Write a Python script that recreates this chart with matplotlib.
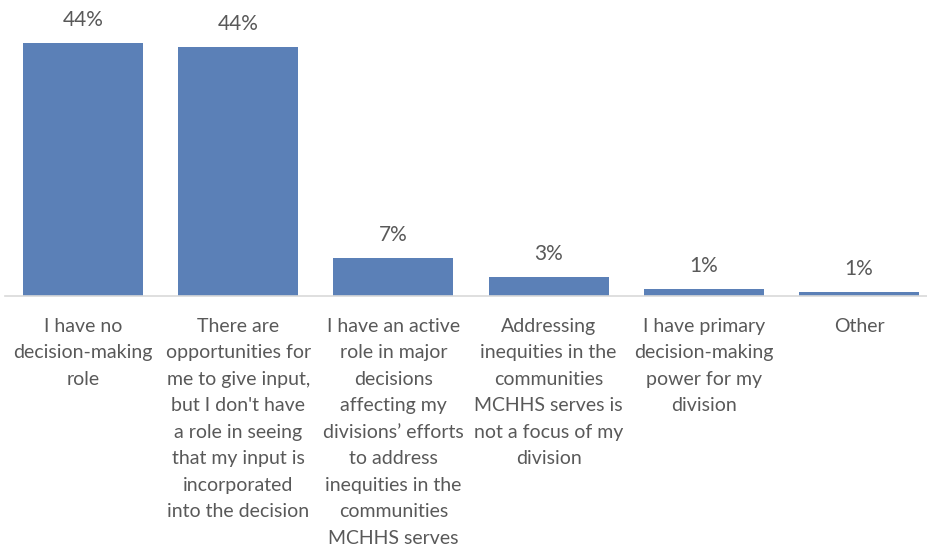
import matplotlib
matplotlib.use("Agg")
import matplotlib.pyplot as plt

categories = [
    "I have no\ndecision-making\nrole",
    "There are\nopportunities for\nme to give input,\nbut I don't have\na role in seeing\nthat my input is\nincorporated\ninto the decision",
    "I have an active\nrole in major\ndecisions\naffecting my\ndivisions\u2019 efforts\nto address\ninequities in the\ncommunities\nMCHHS serves",
    "Addressing\ninequities in the\ncommunities\nMCHHS serves is\nnot a focus of my\ndivision",
    "I have primary\ndecision-making\npower for my\ndivision",
    "Other",
]
values = [44.4, 43.7, 6.6, 3.2, 1.1, 0.7]

BAR_COLOR = "#5B80B7"
TEXT_COLOR = "#595959"
FONT = ["Lato", "DejaVu Sans"]

fig = plt.figure(figsize=(9.28, 5.5), dpi=100)
ax = fig.add_axes([5.4 / 928, 254.5 / 550, 931.2 / 928, 295.5 / 550])

x = list(range(len(categories)))
bars = ax.bar(x, values, width=0.773, color=BAR_COLOR, zorder=2)

ax.set_xlim(-0.5, len(categories) - 0.5)
ax.set_ylim(0, 295.5 / 5.68)

for rect, v in zip(bars, values):
    ax.annotate(f"{v:.0f}%",
                xy=(rect.get_x() + rect.get_width() / 2, rect.get_height()),
                xytext=(0, 16.5), textcoords="offset points",
                ha="center", va="center", fontsize=15,
                color=TEXT_COLOR, family=FONT)

ax.set_xticks(x)
ax.set_xticklabels(categories, fontsize=14, color=TEXT_COLOR, family=FONT,
                   linespacing=1.68, va="top")
ax.tick_params(axis="x", length=0, pad=16)
ax.set_yticks([])

for side in ("top", "right", "left"):
    ax.spines[side].set_visible(False)
ax.spines["bottom"].set_color("#D9D9D9")
ax.spines["bottom"].set_linewidth(1.2)
ax.set_facecolor("none")

fig.savefig("out.png", dpi=100)
